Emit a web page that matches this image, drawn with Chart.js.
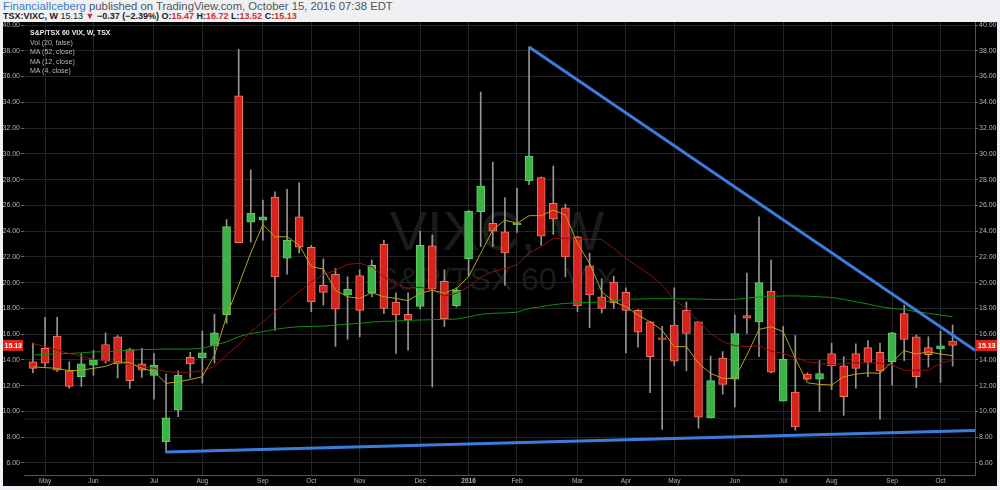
<!DOCTYPE html>
<html><head><meta charset="utf-8">
<script src="https://cdn.jsdelivr.net/npm/chart.js@4.4.0/dist/chart.umd.min.js"></script>
<style>
html,body{margin:0;padding:0;width:1000px;height:490px;overflow:hidden;background:#eef0f3;font-family:"Liberation Sans",Arial,sans-serif;}
#hdr1{position:absolute;left:3px;top:0;height:12px;line-height:12px;font-size:11.3px;color:#555;white-space:nowrap;}
#hdr1 .u{color:#3a7fc1;}
#hdr2{position:absolute;left:3px;top:11px;line-height:10px;font-size:9px;font-weight:bold;color:#222;white-space:nowrap;}
.r{color:#d32f2f;}
#panel{position:absolute;left:3px;top:22px;width:994px;height:464px;background:#000;overflow:hidden;}
.wm{position:absolute;left:0;width:988px;text-align:center;color:#1b1b1b;white-space:nowrap;}
#wm1{top:180.6px;font-size:56px;line-height:56px;}
#wm2{top:240.9px;font-size:32px;line-height:32px;}
canvas{position:absolute;left:0;top:0;}
#leg{position:absolute;left:27px;top:6.25px;font-size:7px;line-height:9.5px;color:#b8b8b8;white-space:nowrap;}
#leg b{color:#ededed;}
</style></head><body>
<div id="hdr1"><span class="u">FinancialIceberg</span> published on TradingView.com, October 15, 2016 07:38 EDT</div>
<div id="hdr2">TSX:VIXC, W <span style="font-weight:normal">15.13</span> <span class="r">▼</span> −0.37 (−2.39%) O:<span class="r">15.47</span> H:<span class="r">16.72</span> L:<span class="r">13.52</span> C:<span class="r">15.13</span></div>
<div id="panel">
  <div class="wm" id="wm1">VIXC, W</div>
  <div class="wm" id="wm2">S&amp;P/TSX 60 VIX</div>
  <canvas id="c" width="994" height="464"></canvas>
  <div id="leg"><b>S&amp;P/TSX 60 VIX, W, TSX</b><br>Vol (20, false)<br>MA (52, close)<br>MA (12, close)<br>MA (4, close)</div>
</div>
<script>
// Weekly bars, week of Apr 27 2015 (index 0) ... week of Oct 10 2016 (index 76)
const opens = [13.85,14.9,15.85,13.15,12.7,13.6,15.2,15.8,14.8,13.7,12.8,7.65,10.1,14.2,14.15,15.1,17.5,34.5,24.7,24.85,
26.65,21.9,25.1,22.75,19.8,20.65,19.05,20.55,19.2,23.0,18.5,17.55,18.15,22.85,20.1,18.2,21.85,25.5,24.6,23.95,
24.5,27.9,28.15,26.15,25.8,23.55,21.3,18.9,20.05,19.25,17.85,16.95,15.65,16.7,17.85,16.95,9.5,14.15,12.5,17.45,
16.95,19.35,10.8,11.5,12.9,12.5,14.5,13.55,14.5,14.95,14.6,13.85,17.6,15.8,14.95,14.85,15.47];
const highs = [15.3,17.3,17.3,13.85,14.5,14.75,16.1,15.9,14.9,14.9,14.5,12.9,13.15,14.6,16.25,17.55,24.9,38.1,28.75,26.4,
27.05,27.25,27.75,22.9,21.85,21.1,20.45,21.0,21.75,23.3,19.2,19.2,24.0,23.7,21.0,19.6,25.6,34.8,29.35,26.6,
27.35,38.3,28.2,29.05,26.1,23.6,22.3,20.3,20.5,19.6,17.9,17.0,16.6,19.6,18.5,17.0,14.3,14.65,17.5,20.75,
25.1,21.75,16.6,15.9,13.0,13.95,15.3,14.25,15.25,15.5,15.3,16.15,18.25,15.95,15.8,16.25,16.72];
const lows = [13.0,13.45,13.1,11.8,11.95,12.8,13.75,12.6,11.8,12.65,10.95,6.8,9.6,12.6,12.2,13.75,16.85,23.1,23.15,23.3,
16.3,20.65,22.3,17.75,18.25,15.05,15.6,15.8,18.9,17.6,14.5,14.75,17.95,11.9,16.6,18.1,20.5,22.8,22.8,19.8,
23.9,27.6,22.9,23.75,20.45,17.75,16.5,17.65,18.0,14.55,15.0,11.45,8.6,13.55,13.15,8.7,9.5,11.35,10.35,16.05,
14.25,13.0,10.8,8.55,12.45,10.0,11.7,9.7,11.8,12.7,9.4,12.05,13.95,11.85,13.45,12.25,13.52];
const closes = [13.35,13.75,13.2,11.95,13.7,14.0,13.95,13.7,12.4,13.2,13.6,9.5,12.8,13.7,14.55,16.1,24.35,23.1,25.4,25.1,
20.45,23.3,22.75,18.5,19.25,17.95,19.5,17.85,21.35,18.0,17.5,17.1,22.9,19.5,17.2,19.4,25.55,27.5,24.0,22.3,
24.6,29.8,23.6,24.95,22.0,18.2,19.05,18.0,18.45,17.85,16.15,14.25,15.6,13.9,16.05,9.55,12.4,12.1,16.05,17.25,
20.0,13.05,14.05,8.8,12.5,12.95,13.55,11.15,13.35,13.8,13.15,16.1,15.6,12.7,14.4,15.1,15.13];
// Moving averages
const ma4 = [13.47,13.4,13.35,13.16,13.2,13.35,13.5,13.86,13.78,13.35,13.1,12.18,12.3,12.48,12.7,14.35,17.4,19.8,22.3,24.5,
23.56,23.56,22.92,21.24,21.05,19.42,18.9,18.78,19.22,18.9,18.78,18.6,19.17,19.42,19.17,19.56,20.46,22.27,24.08,24.86,
24.6,25.2,25.2,25.64,25.25,23.05,21.5,19.3,18.52,18.13,17.48,16.96,16.3,15.03,15.03,13.74,12.96,12.57,12.57,14.38,
16.37,16.58,16.19,14.12,12.23,12.1,12.05,12.7,12.9,13.0,12.96,13.86,14.72,14.46,14.63,14.46,14.33];
const ma12 = [15.28,15.03,14.77,14.5,14.3,14.05,13.95,13.78,13.68,13.47,13.35,13.09,13.04,13.04,13.16,13.5,14.4,15.16,16.19,16.96,
17.74,18.52,19.3,20.07,20.6,20.98,21.42,21.5,21.24,20.46,19.9,19.56,19.65,19.42,18.96,19.17,19.68,20.41,20.85,21.11,
21.37,22.32,22.79,23.44,23.44,23.39,23.37,23.36,22.66,21.89,21.24,20.6,19.81,18.65,18.0,16.96,16.06,15.41,15.1,15.03,
15.1,14.68,14.5,14.2,13.86,13.74,13.6,13.74,13.78,13.78,13.74,13.6,13.2,13.2,13.2,13.74,13.99];
const ma52 = [14.38,14.43,14.48,14.5,14.55,14.63,14.63,14.68,14.77,14.8,14.82,14.85,14.85,14.85,14.9,15.15,15.4,15.8,16.06,16.19,
16.37,16.5,16.58,16.6,16.63,16.7,16.77,16.84,16.94,16.99,17.02,17.07,17.1,17.12,17.15,17.17,17.35,17.54,17.62,17.65,
17.7,18.0,18.13,18.29,18.39,18.44,18.47,18.5,18.6,18.7,18.73,18.75,18.75,18.75,18.73,18.73,18.7,18.7,18.7,18.8,
18.88,18.93,18.97,18.97,18.95,18.9,18.85,18.7,18.52,18.34,18.13,18.0,17.92,17.74,17.62,17.48,17.35];
// Hand-drawn trend lines (bar index, price)
const trendTopX = [41, 77.85];
const trendTopY = [38.3, 14.75];
const trendBotX = [11, 77.85];
const trendBotY = [6.85, 8.52];
const volLineX = [-0.74, 76.6];
const volLineY = [9.42, 9.42];
// Axis ticks
const monthIdx = [1,5,10,14,19,23,27,32,36,40,45,49,53,58,62,66,71,75];
const monthLbl = ['May','Jun','Jul','Aug','Sep','Oct','Nov','Dec','2016','Feb','Mar','Apr','May','Jun','Jul','Aug','Sep','Oct'];
const yTicks = [6,8,10,12,14,16,18,20,22,24,26,28,30,32,34,36,38,40];
const lastPrice = 15.13;

const FONT = '"Liberation Sans", Arial, sans-serif';
const idx = closes.map((_, i) => i);
const isUp = i => closes[i] >= opens[i];
const xy = (xs, ys) => xs.map((x, k) => ({x: x, y: ys[k]}));
const series = arr => arr.map((v, i) => ({x: i, y: v}));

const badge = {
  id: 'badge',
  afterDraw(c) {
    const y = c.scales.y.getPixelForValue(lastPrice);
    const ctx = c.ctx, a = c.chartArea;
    ctx.save();
    ctx.fillStyle = '#e0261b';
    ctx.fillRect(a.right + 1, y - 5.5, c.width - a.right - 1, 11);
    ctx.fillRect(0, y - 5.5, a.left - 1, 11);
    ctx.fillStyle = '#fff';
    ctx.font = 'bold 7px ' + FONT;
    ctx.textBaseline = 'middle';
    ctx.textAlign = 'left';
    ctx.fillText(lastPrice.toFixed(2), a.right + 3, y + 0.5);
    ctx.textAlign = 'right';
    ctx.fillText(lastPrice.toFixed(2), a.left - 2, y + 0.5);
    ctx.restore();
  }
};

const yAxisCommon = {
  min: 5.068, max: 40.233,
  afterBuildTicks: s => { s.ticks = yTicks.map(v => ({value: v})); },
  ticks: {color: '#b4b4b4', font: {size: 7, family: FONT}, padding: 1, callback: v => Number(v).toFixed(2)}
};

new Chart(document.getElementById('c'), {
  type: 'line',
  data: {
    datasets: [
      {type: 'line', data: xy(trendTopX, trendTopY), borderColor: '#3b7ddd', borderWidth: 3, pointRadius: 0, order: -2},
      {type: 'line', data: xy(trendBotX, trendBotY), borderColor: '#3b7ddd', borderWidth: 3, pointRadius: 0, order: -2},
      {type: 'line', data: series(ma4), borderColor: '#b5a419', borderWidth: 1, pointRadius: 0, order: 0},
      {type: 'line', data: series(ma12), borderColor: '#8e1010', borderWidth: 1, pointRadius: 0, order: 0},
      {type: 'line', data: series(ma52), borderColor: '#0b8f12', borderWidth: 1, pointRadius: 0, order: 0},
      {type: 'line', data: xy(volLineX, volLineY), borderColor: '#142636', borderWidth: 1, pointRadius: 0, order: 5},
      {type: 'bar', data: idx.map(i => ({x: i, y: [opens[i], closes[i]]})), grouped: false, barThickness: 8, minBarLength: 1.5,
        backgroundColor: idx.map(i => isUp(i) ? '#3cb248' : '#d6231d'),
        borderColor: idx.map(i => isUp(i) ? '#62cf6c' : '#ee7a68'),
        borderWidth: 1, borderSkipped: false, order: 1},
      {type: 'bar', data: idx.map(i => ({x: i, y: [lows[i], highs[i]]})), grouped: false, barThickness: 1, minBarLength: 1,
        backgroundColor: '#959595', borderWidth: 0, order: 2}
    ]
  },
  options: {
    responsive: false, animation: false, devicePixelRatio: 1,
    layout: {padding: 0},
    plugins: {legend: {display: false}, tooltip: {enabled: false}},
    scales: {
      x: {
        type: 'linear', min: -0.74, max: 77.85, offset: false,
        afterBuildTicks: s => { s.ticks = monthIdx.map(v => ({value: v})); },
        ticks: {autoSkip: false, maxRotation: 0, color: '#b4b4b4', padding: 2,
          font: ctx => ({size: 6.5, family: FONT, weight: (ctx.tick && ctx.tick.value === 36) ? 'bold' : 'normal'}),
          callback: v => monthLbl[monthIdx.indexOf(v)]},
        grid: {color: '#242424', drawTicks: false, offset: false},
        border: {display: true, color: '#555'},
        afterFit: s => { s.height = 11; s.paddingLeft = 0; s.paddingRight = 0; }
      },
      y: Object.assign({}, yAxisCommon, {
        position: 'right',
        grid: {color: '#242424', tickLength: 3, tickColor: '#666'},
        border: {display: true, color: '#555'},
        afterFit: s => { s.width = 22; s.paddingTop = 0; s.paddingBottom = 0; }
      }),
      yL: Object.assign({}, yAxisCommon, {
        position: 'left',
        grid: {drawOnChartArea: false, tickLength: 3, tickColor: '#666'},
        border: {display: false},
        afterFit: s => { s.width = 21; s.paddingTop = 0; s.paddingBottom = 0; }
      })
    }
  },
  plugins: [badge]
});
</script>
</body></html>
